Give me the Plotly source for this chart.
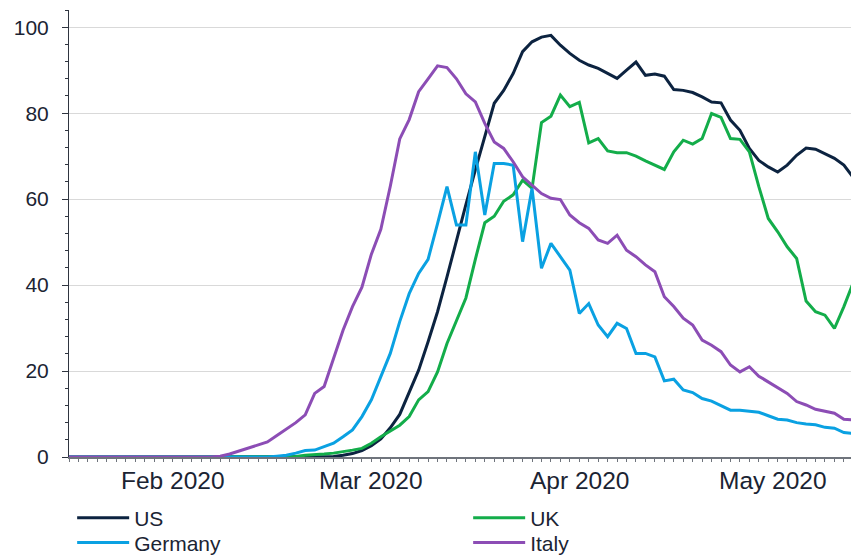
import pandas as pd
import plotly.graph_objects as go

# business-day dates (weekends skipped)
dates = pd.bdate_range("2020-01-31", periods=85)

us = [0]*28 + [0.1, 0.4, 0.8, 1.5, 2.6, 4.2, 6.8, 9.9, 15.0, 20.2, 26.8, 33.8, 41.9, 50.5, 58.7, 66.8,
      74.7, 82.3, 85.3, 89.2, 94.3, 96.6, 97.7, 98.1, 95.8, 93.9, 92.3, 91.2, 90.4, 89.2, 88.1, 90.0,
      91.9, 88.8, 89.1, 88.6, 85.5, 85.3, 84.8, 83.8, 82.6, 82.4, 78.4, 76.0, 71.8, 69.0, 67.5, 66.3,
      67.9, 70.2, 71.9, 71.6, 70.6, 69.5, 67.9, 65.0, 59.0]
uk = [0]*24 + [0.1, 0.4, 0.5, 0.7, 0.9, 1.2, 1.6, 2.0, 3.2, 4.7, 6.0, 7.4, 9.4, 13.3, 15.2, 19.8,
      26.4, 31.5, 37.0, 46.0, 54.5, 56.0, 59.5, 61.0, 64.4, 62.5, 77.8, 79.3, 84.2, 81.5, 82.5, 73.1,
      74.1, 71.2, 70.8, 70.8, 70.0, 68.9, 67.9, 66.9, 71.0, 73.7, 72.8, 74.1, 79.9, 79.0, 74.1, 73.9,
      71.0, 62.9, 55.5, 52.4, 48.9, 46.2, 36.3, 33.8, 33.0, 29.9, 35.0, 40.6, 38.5]
germany = [0]*22 + [0.2, 0.4, 0.9, 1.5, 1.6, 2.4, 3.2, 4.7, 6.3, 9.4, 13.3, 18.7, 24.1, 31.5, 38.0,
           42.7, 46.0, 54.3, 62.9, 54.0, 54.0, 71.0, 56.3, 68.3, 68.3, 67.9, 50.1, 62.5, 43.9, 49.7,
           46.6, 43.5, 33.4, 35.7, 30.7, 28.0, 31.1, 29.9, 24.1, 24.1, 23.3, 17.7, 18.1, 15.6, 15.0,
           13.6, 13.0, 11.9, 10.9, 10.9, 10.7, 10.4, 9.6, 8.8, 8.6, 8.0, 7.7, 7.5, 6.9, 6.7, 5.7, 5.5, 4.9]
italy = [0]*16 + [0.2, 0.7, 1.4, 2.1, 2.8, 3.5, 5.0, 6.5, 8.0, 9.8, 14.8, 16.4, 22.7, 29.5, 35.0,
         39.5, 47.2, 53.0, 63.0, 74.0, 78.5, 85.0, 88.0, 91.0, 90.6, 88.0, 84.5, 82.6, 77.6, 73.3,
         71.8, 68.7, 65.2, 63.3, 61.3, 60.2, 59.9, 56.3, 54.5, 53.2, 50.5, 49.7, 51.6, 48.1, 46.6,
         44.7, 43.1, 37.3, 35.0, 32.3, 30.7, 27.2, 26.0, 24.5, 21.4, 19.8, 21.0, 18.8, 17.5, 16.0,
         14.8, 12.9, 12.1, 11.1, 10.7, 10.2, 8.8, 8.6, 8.4]

# (name, values, colour, legend row)
series = [("US", us, "#0c2340", "legend"), ("UK", uk, "#13ad4a", "legend"),
          ("Germany", germany, "#0aa1e2", "legend2"), ("Italy", italy, "#8c4db5", "legend2")]

month_ticks = [dates[1], dates[21], dates[43], dates[65]]
month_labels = ["Feb 2020", "Mar 2020", "Apr 2020", "May 2020"]
month_label_pos = [dates[11], dates[32], dates[54], dates[74] + pd.Timedelta(hours=12)]

TXT = "#1b2433"
FONT = "Liberation Sans, Arial, sans-serif"

fig = go.Figure()
for name, vals, col, leg in series:
    fig.add_trace(go.Scatter(x=dates, y=vals, name=name, mode="lines", legend=leg,
                             line=dict(color=col, width=3)))

legend_style = dict(orientation="h", x=0.004, xanchor="left", yanchor="top",
                    entrywidth=329, entrywidthmode="pixels", itemwidth=52,
                    font=dict(size=21, color=TXT, family=FONT), bgcolor="rgba(0,0,0,0)")

x_end = dates[83] + pd.Timedelta(hours=14.4)
fig.update_layout(
    width=851, height=547,
    margin=dict(l=61, r=0, t=2, b=98, autoexpand=False),
    paper_bgcolor="white", plot_bgcolor="white",
    font=dict(family=FONT, color=TXT),
    showlegend=True,
    legend=dict(y=-0.091, **legend_style),
    legend2=dict(y=-0.146, **legend_style),
    xaxis=dict(type="date", range=[dates[0], x_end],
               rangebreaks=[dict(bounds=["sat", "mon"])],
               tickmode="array", tickvals=month_ticks, ticktext=["", "", "", ""],
               ticks="outside", ticklen=7, tickwidth=1, tickcolor="#6f747c",
               minor=dict(tickmode="array", tickvals=list(dates), ticks="outside",
                          ticklen=3, tickwidth=1, tickcolor="#6f747c", showgrid=False),
               showline=True, linecolor="#6f747c", linewidth=1.5,
               showgrid=False, zeroline=False),
    yaxis=dict(range=[0, 104], tickvals=[0, 20, 40, 60, 80, 100],
               ticks="outside", ticklen=6, tickwidth=1, tickcolor="#2f3540",
               ticklabelstandoff=9,
               minor=dict(dtick=4, tick0=0, ticks="outside", ticklen=3, tickcolor="#2f3540",
                          showgrid=False),
               showline=True, linecolor="#2f3540", linewidth=1,
               showgrid=True, gridcolor="#d9d9d9", gridwidth=1, zeroline=False,
               tickfont=dict(size=21, color=TXT)),
)

for pos, lab in zip(month_label_pos, month_labels):
    fig.add_annotation(x=pos, y=0, xref="x", yref="paper", text=lab, showarrow=False,
                       yanchor="top", yshift=-8, font=dict(size=24.5, color=TXT, family=FONT))

fig.write_html("out.html")
